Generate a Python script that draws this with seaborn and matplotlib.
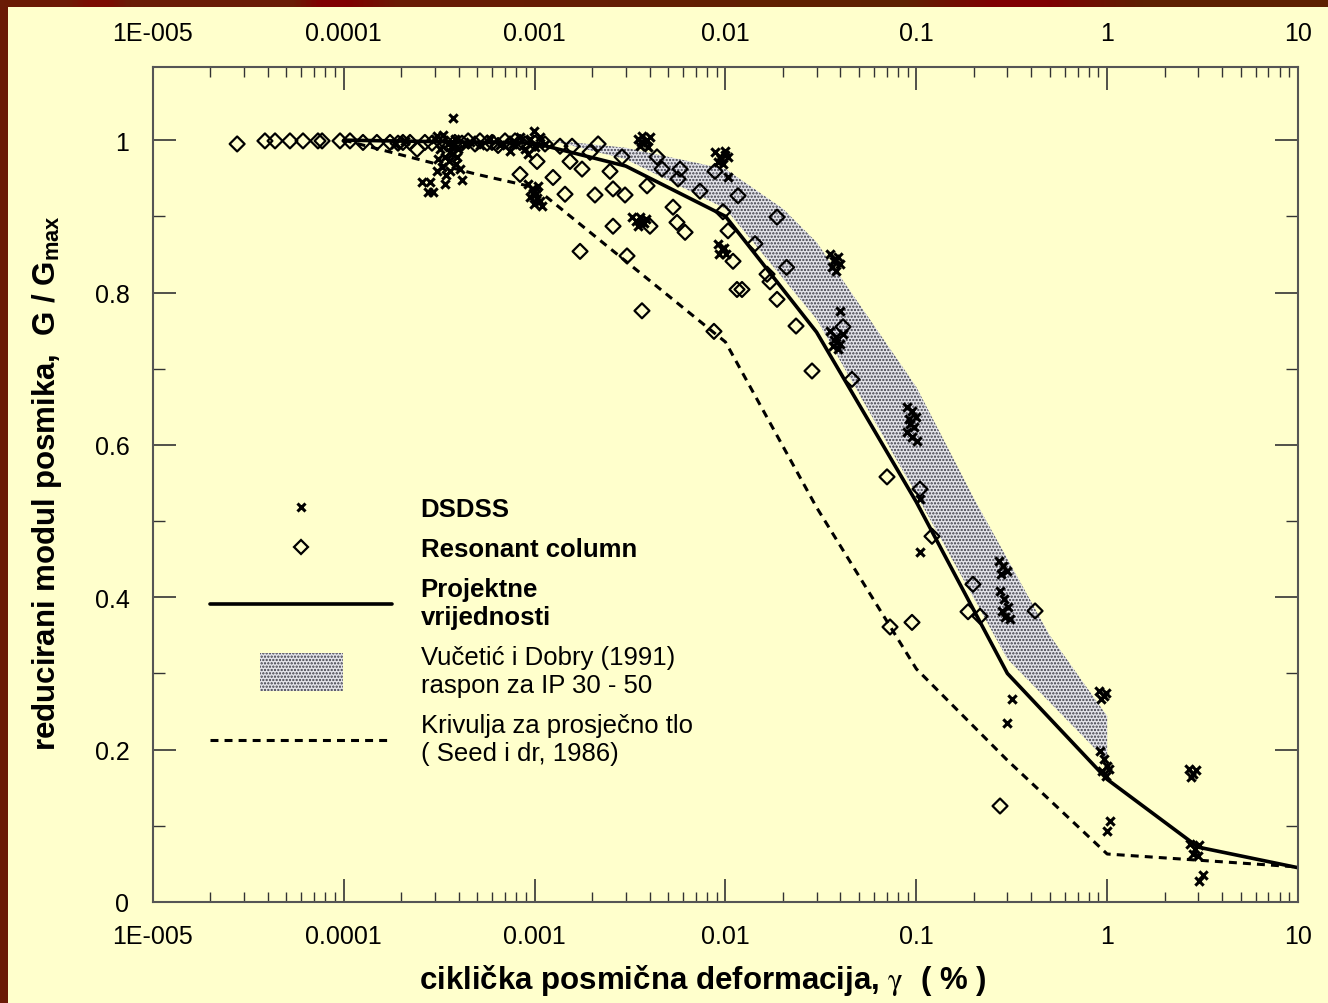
import numpy as np
import matplotlib
matplotlib.use("Agg")
import matplotlib.pyplot as plt
import matplotlib.patches as mpatches
from matplotlib.lines import Line2D
from matplotlib.colors import LinearSegmentedColormap
from matplotlib.legend_handler import HandlerPatch
from matplotlib.ticker import FixedLocator, FixedFormatter, LogLocator, NullFormatter
import seaborn as sns

# ---------------- data ----------------
xtick_vals = [1e-5, 1e-4, 1e-3, 1e-2, 1e-1, 1, 10]
xtick_labels = ["1E-005", "0.0001", "0.001", "0.01", "0.1", "1", "10"]
ytick_vals = [0, 0.2, 0.4, 0.6, 0.8, 1.0]
ytick_labels = ["0", "0.2", "0.4", "0.6", "0.8", "1"]
ytick_minor = [0.1, 0.3, 0.5, 0.7, 0.9]

# Projektne vrijednosti (design curve)
design_x = [1e-4, 1e-3, 3e-3, 1e-2, 3e-2, 1e-1, 3e-1, 1.0, 3.0, 10.0]
design_y = [1.0, 0.996, 0.966, 0.900, 0.748, 0.525, 0.300, 0.161, 0.072, 0.045]

# Seed i dr. (1986) average curve
seed_x = [1e-4, 5e-4, 1e-3, 1e-2, 3e-2, 1e-1, 3e-1, 1.0, 10.0]
seed_y = [1.0, 0.955, 0.938, 0.735, 0.518, 0.306, 0.186, 0.063, 0.046]

# Vucetic & Dobry (1991) band, IP 30 - 50
vd_upper_x = [1.2e-3, 3e-3, 1e-2, 2e-2, 3e-2, 1e-1, 2e-1, 5e-1, 1.0]
vd_upper_y = [1.0, 0.99, 0.962, 0.91, 0.866, 0.676, 0.53, 0.35, 0.244]
vd_lower_x = [1.2e-3, 3e-3, 1e-2, 3e-2, 1e-1, 3e-1, 1.0]
vd_lower_y = [1.0, 0.975, 0.91, 0.765, 0.535, 0.319, 0.185]

# Resonant column tests
rc_x = [2.76e-5, 3.86e-5, 4.36e-5, 5.22e-5, 6.11e-5, 7.32e-5, 7.69e-5, 9.55e-5, 1.077e-4, 1.26e-4,
        1.49e-4, 1.746e-4, 1.923e-4, 2.04e-4, 2.222e-4, 2.42e-4, 2.66e-4, 2.897e-4, 3.19e-4, 3.473e-4,
        3.82e-4, 4.16e-4, 4.48e-4, 4.87e-4, 5.17e-4, 5.63e-4, 5.98e-4, 6.43e-4, 6.99e-4, 7.43e-4,
        7.89e-4, 8.38e-4, 8.9e-4, 1.004e-3, 1.133e-3,
        1.029e-3, 8.38e-4, 1.248e-3, 1.358e-3, 1.57e-3, 1.532e-3, 1.771e-3, 1.442e-3, 1.95e-3, 2.15e-3,
        1.729e-3, 2.07e-3, 2.574e-3, 2.975e-3, 2.482e-3, 2.87e-3, 2.574e-3, 3.047e-3, 3.65e-3, 3.88e-3,
        4.377e-3, 4.65e-3, 4.02e-3, 5.78e-3, 5.64e-3, 5.31e-3, 5.57e-3, 6.14e-3, 7.35e-3, 8.81e-3,
        9.7e-3, 1.031e-2, 1.163e-2, 1.095e-2, 1.22e-2, 1.149e-2, 1.862e-2, 1.428e-2, 1.651e-2, 1.711e-2,
        2.09e-2, 1.862e-2, 8.7e-3, 2.342e-2, 2.84e-2, 4.13e-2, 4.6e-2, 7.02e-2, 0.1045, 0.1208,
        0.198, 0.1866, 7.28e-2, 9.49e-2, 0.419, 0.2157, 0.2745]
rc_y = [0.995, 0.999, 0.999, 0.999, 0.999, 0.999, 0.999, 0.999, 0.999, 0.997,
        0.997, 0.997, 0.996, 0.997, 0.997, 0.988, 0.997, 0.996, 0.999, 0.995,
        0.997, 0.996, 0.999, 0.995, 0.999, 0.996, 0.997, 0.993, 0.999, 0.995,
        0.999, 0.997, 0.995, 0.996, 0.995,
        0.972, 0.955, 0.951, 0.992, 0.992, 0.972, 0.962, 0.929, 0.984, 0.995,
        0.854, 0.928, 0.936, 0.928, 0.959, 0.978, 0.887, 0.848, 0.776, 0.940,
        0.978, 0.962, 0.887, 0.962, 0.949, 0.912, 0.892, 0.879, 0.933, 0.959,
        0.906, 0.881, 0.927, 0.841, 0.804, 0.804, 0.899, 0.864, 0.824, 0.814,
        0.833, 0.791, 0.749, 0.756, 0.697, 0.755, 0.686, 0.558, 0.542, 0.480,
        0.417, 0.381, 0.361, 0.367, 0.382, 0.375, 0.126]

# DSDSS tests
ds_x = [2.57e-4, 2.83e-4, 2.76e-4, 2.93e-4, 3.39e-4, 4.16e-4, 3.73e-4, 3.0e-4, 3.19e-4, 3.12e-4,
        3.27e-4, 3.39e-4, 3.52e-4, 3.6e-4, 3.69e-4, 3.82e-4, 3.87e-4, 3.97e-4, 4.06e-4, 3.43e-4,
        3.08e-4, 3.31e-4, 4.32e-4, 3.08e-4, 3.55e-4, 3.75e-4, 3.92e-4, 3.62e-4,
        1.854e-4, 2.092e-4, 4.58e-4, 5.17e-4, 5.83e-4, 6.58e-4,
        7.7e-4, 8.38e-4, 8.9e-4, 9.45e-4, 9.92e-4, 1.004e-3, 1.067e-3, 1.133e-3, 9.23e-4, 7.43e-4,
        9.23e-4, 9.68e-4, 1.016e-3, 9.45e-4, 1.067e-3, 9.92e-4, 1.093e-3, 1.041e-3, 9.8e-4, 1.03e-3,
        3.48e-3, 3.65e-3, 3.83e-3, 4.02e-3, 3.56e-3, 3.93e-3, 3.7e-3, 3.6e-3, 3.9e-3,
        3.24e-3, 3.4e-3, 3.56e-3, 3.74e-3, 3.48e-3, 3.83e-3, 3.62e-3,
        8.81e-3, 9.36e-3, 9.94e-3, 9.14e-3, 9.7e-3, 1.031e-2, 1.031e-2, 9.5e-3, 9.9e-3,
        9.14e-3, 9.59e-3, 1.006e-2, 9.25e-3, 9.8e-3,
        3.53e-2, 3.7e-2, 3.89e-2, 3.61e-2, 3.8e-2, 3.98e-2, 3.98e-2, 3.75e-2,
        3.53e-2, 3.8e-2, 3.98e-2, 3.66e-2, 4.13e-2, 3.89e-2, 3.72e-2,
        8.94e-2, 9.49e-2, 9.96e-2, 9.16e-2, 9.72e-2, 8.94e-2, 9.49e-2, 0.1008, 0.1045, 0.1045, 9.3e-2,
        0.2713, 0.2846, 0.2986, 0.2779, 0.2745, 0.288, 0.3023, 0.2813, 0.2915, 0.3097, 0.3171, 0.2986,
        0.906, 0.963, 0.929, 0.986, 0.917, 0.963, 0.998, 0.94, 0.986, 1.023, 1.035, 0.998,
        2.685, 2.818, 2.922, 2.751, 2.718, 2.887, 3.028, 2.818, 2.993, 3.179, 3.028]
ds_y = [0.945, 0.945, 0.932, 0.932, 0.942, 0.948, 1.029, 1.001, 0.988, 0.975,
        0.965, 0.978, 0.995, 0.959, 0.982, 1.001, 0.969, 0.988, 0.962, 0.954,
        0.959, 1.007, 0.995, 1.005, 0.972, 0.992, 0.978, 0.985,
        0.995, 0.999, 0.997, 0.993, 1.001, 0.993,
        0.995, 1.004, 0.988, 1.001, 1.012, 0.991, 1.004, 0.995, 0.982, 0.986,
        0.942, 0.936, 0.929, 0.925, 0.920, 0.916, 0.913, 0.940, 0.931, 0.924,
        1.001, 1.005, 0.999, 1.004, 0.992, 0.991, 0.996, 0.998, 1.0,
        0.899, 0.894, 0.899, 0.891, 0.887, 0.896, 0.893,
        0.984, 0.978, 0.986, 0.971, 0.969, 0.978, 0.951, 0.975, 0.981,
        0.864, 0.857, 0.850, 0.850, 0.858,
        0.850, 0.841, 0.846, 0.833, 0.828, 0.837, 0.776, 0.844,
        0.749, 0.741, 0.732, 0.730, 0.745, 0.726, 0.738,
        0.650, 0.644, 0.636, 0.634, 0.623, 0.617, 0.610, 0.605, 0.529, 0.459, 0.628,
        0.447, 0.441, 0.434, 0.430, 0.408, 0.398, 0.387, 0.382, 0.374, 0.371, 0.266, 0.235,
        0.277, 0.270, 0.266, 0.274, 0.198, 0.188, 0.178, 0.172, 0.165, 0.175, 0.106, 0.093,
        0.175, 0.168, 0.173, 0.164, 0.076, 0.070, 0.075, 0.063, 0.060, 0.035, 0.028]

legend_labels = ["DSDSS", "Resonant column", "Projektne\nvrijednosti",
                 "Vučetić i Dobry (1991)\nraspon za IP 30 - 50",
                 "Krivulja za prosječno tlo\n( Seed i dr, 1986)"]
xlabel_text = "ciklička posmična deformacija, $\\mathrm{\\gamma}$  ( % )"
ylabel_text = "reducirani modul posmika,  G / G$_{\\mathregular{max}}$"

# ---------------- style ----------------
sns.set_theme(style="ticks")
plt.rcParams['font.family'] = ['Liberation Sans', 'DejaVu Sans']
plt.rcParams['mathtext.fontset'] = 'stix'
plt.rcParams['hatch.linewidth'] = 1.1
for key in ['text.color', 'axes.labelcolor', 'xtick.labelcolor', 'ytick.labelcolor']:
    plt.rcParams[key] = 'black'

BG = '#FFFFCC'
fig = plt.figure(figsize=(13.28, 10.04), dpi=100, facecolor=BG)
ax = fig.add_axes([153/1328, 1 - 903/1004, 1145/1328, 835/1004])
ax.set_facecolor(BG)
ax.set_xscale('log')

band_face = '#e4e4ea'
band_edge = '#3a3a44'

# band
poly_x = np.concatenate([vd_upper_x, vd_lower_x[::-1]])
poly_y = np.concatenate([vd_upper_y, vd_lower_y[::-1]])
ax.fill(poly_x, poly_y, facecolor=band_face, edgecolor=band_edge, hatch='.....',
        linewidth=0, zorder=1)

# curves
sns.lineplot(x=seed_x, y=seed_y, ax=ax, color='black', linewidth=2.2,
             estimator=None, sort=False, zorder=2)
ax.lines[-1].set_dashes([2.6, 2.0])
sns.lineplot(x=design_x, y=design_y, ax=ax, color='black', linewidth=2.6,
             estimator=None, sort=False, zorder=2)

# points
sns.scatterplot(x=rc_x, y=rc_y, ax=ax, marker='D', s=58, zorder=3)
coll = ax.collections[-1]
coll.set_facecolor('none')
coll.set_edgecolor('black')
coll.set_linewidth(1.6)

sns.scatterplot(x=ds_x, y=ds_y, ax=ax, marker='x', s=36, color='black', zorder=4)
coll = ax.collections[-1]
coll.set_edgecolor('black')
coll.set_linewidth(2.2)

# axes
ax.set_xlim(1e-5, 10)
ax.set_ylim(0, 1.096)
ax.xaxis.set_major_locator(FixedLocator(xtick_vals))
ax.xaxis.set_major_formatter(FixedFormatter(xtick_labels))
ax.xaxis.set_minor_locator(LogLocator(base=10, subs=np.arange(2, 10), numticks=100))
ax.xaxis.set_minor_formatter(NullFormatter())
ax.yaxis.set_major_locator(FixedLocator(ytick_vals))
ax.yaxis.set_major_formatter(FixedFormatter(ytick_labels))
ax.yaxis.set_minor_locator(FixedLocator(ytick_minor))
ax.tick_params(which='both', direction='in', top=True, right=True, bottom=True, left=True,
               labeltop=True, labelbottom=True, labelleft=True, labelright=False,
               color='#333333', labelcolor='black')
ax.tick_params(axis='x', which='major', length=16.5, width=1.2, pad=16, labelsize=18)
ax.tick_params(axis='x', which='minor', length=7, width=1.0)
ax.tick_params(axis='y', which='major', length=16.5, width=1.2, pad=17, labelsize=18)
ax.tick_params(axis='y', which='minor', length=8.5, width=1.0)
for s in ax.spines.values():
    s.set_color('#555555')
    s.set_linewidth(1.5)
ax.grid(False)

ax.set_xlabel(xlabel_text, fontsize=22.5, fontweight='bold', color='black')
ax.set_ylabel(ylabel_text, fontsize=22.5, fontweight='bold', color='black')
ax.xaxis.set_label_coords(0.4799, -0.072)
ax.yaxis.set_label_coords(-0.078, 0.503)

# legend
h_ds = Line2D([], [], marker='x', color='black', linestyle='none', markersize=5.8, markeredgewidth=2.2)
h_rc = Line2D([], [], marker='D', color='black', markerfacecolor='none', linestyle='none',
              markersize=7.4, markeredgewidth=1.6)
h_design = Line2D([], [], color='black', linewidth=2.6)
h_band = mpatches.Rectangle((0, 0), 1, 1, facecolor=band_face, edgecolor=band_edge,
                            hatch='.....', linewidth=0)
h_seed = Line2D([], [], color='black', linewidth=2.2, dashes=[2.6, 2.0])


def band_patch(legend, orig_handle, xdescent, ydescent, width, height, fontsize):
    w, h = 60.0, 27.0
    return mpatches.Rectangle((-xdescent + (width - w) / 2, -ydescent + (height - h) / 2), w, h)


leg = ax.legend([h_ds, h_rc, h_design, h_band, h_seed], legend_labels,
                loc='upper left', bbox_to_anchor=((210 - 153) / 1145, (903 - 498) / 835),
                frameon=False, fontsize=18.5, handlelength=7.1, handletextpad=1.1,
                labelspacing=0.63, borderpad=0, borderaxespad=0, numpoints=1,
                handler_map={h_band: HandlerPatch(patch_func=band_patch)})
for i, t in enumerate(leg.get_texts()):
    if i < 3:
        t.set_fontweight('bold')
    t.set_linespacing(1.2)
    t.set_color('black')

# frame decoration (dark red border on left and top)
fig.add_artist(mpatches.Rectangle((0, 0), 8 / 1328, 1, transform=fig.transFigure,
                                  facecolor='#6b1a06', edgecolor='none', zorder=10))
cmap = LinearSegmentedColormap.from_list('bar', [
    (0.0, '#6a1c06'), (0.05, '#6e1a05'), (0.065, '#7c0c02'), (0.08, '#7c0c02'),
    (0.095, '#6a1c06'), (0.22, '#6a1c06'), (0.24, '#800000'), (0.26, '#800000'),
    (0.3, '#6a1c06'), (0.68, '#5e2200'), (0.75, '#800000'), (0.79, '#800000'),
    (0.86, '#5e2000'), (1.0, '#5e2000')])
tax = fig.add_axes([0, 1 - 8 / 1004, 1, 8 / 1004], zorder=10)
tax.imshow(np.linspace(0, 1, 512)[None, :], cmap=cmap, aspect='auto')
tax.axis('off')

fig.savefig('out.png', dpi=100, facecolor=BG)
